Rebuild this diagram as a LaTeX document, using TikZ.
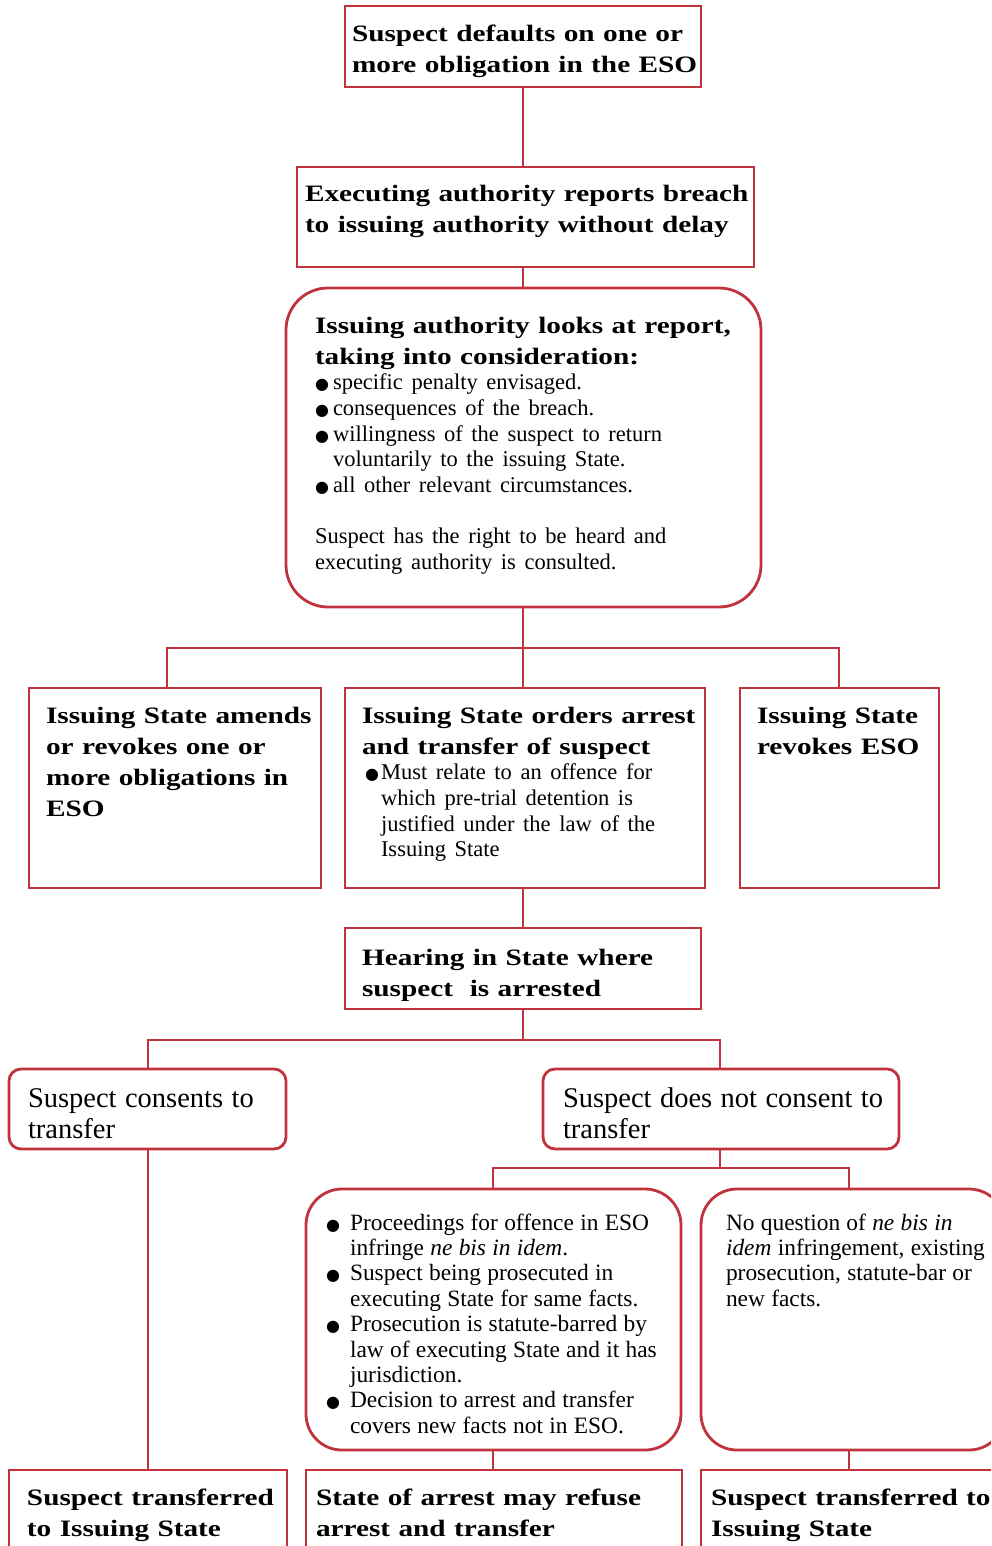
\documentclass[tikz,border=0pt]{standalone}
\usepackage{fontspec}
\setmainfont{Liberation Serif}
\newfontfamily\bfw{Liberation Serif}[FakeStretch=1.245]
\newfontfamily\djv{DejaVu Sans}
\definecolor{ered}{RGB}{192,50,60}
\setlength\parindent{0pt}
\newcommand\bT{\bfw\bfseries\fontsize{23.5}{31}\selectfont\spaceskip=8.4pt plus 2pt minus 1pt\relax}
\newcommand\rS{\rmfamily\fontsize{22.5}{25.7}\selectfont\spaceskip=8.6pt plus 2pt minus 1pt\relax}
\newcommand\rM{\rmfamily\fontsize{23.4}{25.4}\selectfont\spaceskip=6.3pt plus 2pt minus 1pt\relax}
\newcommand\rL{\rmfamily\fontsize{28.5}{31}\selectfont\spaceskip=8.4pt plus 2pt minus 1pt\relax}
\newcommand\bul[1]{\makebox[#1][l]{\djv\fontsize{16}{16}\selectfont ●}}
\begin{document}
\begin{tikzpicture}[x=1pt,y=-1pt,
  box/.style={draw=ered,line width=2.8pt,inner sep=0pt,outer sep=0pt,anchor=north west},
  txt/.style={inner sep=0pt,outer sep=0pt,anchor=base west,align=left,text width=460pt},
  conn/.style={draw=ered,line width=2.8pt}]
\useasboundingbox (0,0) rectangle (991,1546);
\clip (0,0) rectangle (991,1546);
% boxes
\node[box,minimum width=356pt,minimum height=81pt] (b1) at (345,6) {};
\node[box,minimum width=457pt,minimum height=100pt] (b2) at (297,167) {};
\node[box,rounded corners=42pt,minimum width=475pt,minimum height=319pt] (b3) at (286,288) {};
\node[box,minimum width=292pt,minimum height=200pt] (b4) at (29,688) {};
\node[box,minimum width=360pt,minimum height=200pt] (b5) at (345,688) {};
\node[box,minimum width=199pt,minimum height=200pt] (b6) at (740,688) {};
\node[box,minimum width=356pt,minimum height=81pt] (b7) at (345,928) {};
\node[box,rounded corners=12pt,minimum width=277pt,minimum height=80pt] (b8) at (9,1069) {};
\node[box,rounded corners=12pt,minimum width=356pt,minimum height=80pt] (b9) at (543,1069) {};
\node[box,rounded corners=36pt,minimum width=375pt,minimum height=261pt] (b10) at (306,1189) {};
\node[box,rounded corners=36pt,minimum width=304pt,minimum height=261pt] (b11) at (701,1189) {};
\node[box,minimum width=278pt,minimum height=130pt] (b12) at (9,1470) {};
\node[box,minimum width=376pt,minimum height=130pt] (b13) at (306,1470) {};
\node[box,minimum width=304pt,minimum height=130pt] (b14) at (701,1470) {};
% junctions
\coordinate (ax) at (523,0);
\coordinate (j1) at (523,648);
\coordinate (j1l) at (167,648);
\coordinate (j1r) at (839,648);
\coordinate (j2) at (523,1040);
\coordinate (j2l) at (148,1040);
\coordinate (j2r) at (720,1040);
\coordinate (j3l) at (493,1168);
\coordinate (j3r) at (849,1168);
% connectors
\draw[conn] (b1.south -| ax) -- (b2.north -| ax);
\draw[conn] (b2.south -| ax) -- (b3.north -| ax);
\draw[conn] (b3.south -| ax) -- (j1);
\draw[conn] (j1l |- b4.north) -- (j1l) -- (j1r) -- (j1r |- b6.north);
\draw[conn] (j1) -- (b5.north -| ax);
\draw[conn] (b5.south -| ax) -- (b7.north -| ax);
\draw[conn] (b7.south -| ax) -- (j2);
\draw[conn] (j2l |- b8.north) -- (j2l) -- (j2r) -- (j2r |- b9.north);
\draw[conn] (j2l |- b8.south) -- (j2l |- b12.north);
\draw[conn] (j2r |- b9.south) -- (j2r |- j3l);
\draw[conn] (j3l |- b10.north) -- (j3l) -- (j3r) -- (j3r |- b11.north);
\draw[conn] (j3l |- b10.south) -- (j3l |- b13.north);
\draw[conn] (j3r |- b11.south) -- (j3r |- b14.north);
% texts
\node[txt] (t1) at (352,42) {\bT Suspect defaults on one or\\ more obligation in the ESO\par};
\node[txt] (t2) at (305,202) {\bT Executing authority reports breach\\ to issuing authority without delay\par};
\node[txt] (t3) at (315,333) {{\bT Issuing authority looks at report,\\ taking into consideration:\par}
{\rS \bul{18pt}specific penalty envisaged.\\ \bul{18pt}consequences of the breach.\\ \bul{18pt}willingness of the suspect to return\\ \hspace*{18pt}voluntarily to the issuing State.\\ \bul{18pt}all other relevant circumstances.\par}
\vskip 25.7pt
{\rS Suspect has the right to be heard and\\ executing authority is consulted.\par}};
\node[txt] (t4) at (46,723) {\bT Issuing State amends\\ or revokes one or\\ more obligations in\\ ESO\par};
\node[txt] (t5) at (362,723) {{\bT Issuing State orders arrest\\ and transfer of suspect\par}
{\rS \hspace*{3pt}\bul{16pt}Must relate to an offence for\\ \hspace*{19pt}which pre-trial detention is\\ \hspace*{19pt}justified under the law of the\\ \hspace*{19pt}Issuing State\par}};
\node[txt] (t6) at (757,723) {\bT Issuing State\\ revokes ESO\par};
\node[txt] (t7) at (362,965) {\bT Hearing in State where\\ suspect\ \ is arrested\par};
\node[txt] (t8) at (28,1107) {\rL Suspect consents to\\ transfer\par};
\node[txt] (t9) at (563,1107) {\rL Suspect does not consent to\\ transfer\par};
\node[txt] (t10) at (326,1230) {\rM \bul{24pt}Proceedings for offence in ESO\\ \hspace*{24pt}infringe \textit{ne bis in idem}.\\ \bul{24pt}Suspect being prosecuted in\\ \hspace*{24pt}executing State for same facts.\\ \bul{24pt}Prosecution is statute-barred by\\ \hspace*{24pt}law of executing State and it has\\ \hspace*{24pt}jurisdiction.\\ \bul{24pt}Decision to arrest and transfer\\ \hspace*{24pt}covers new facts not in ESO.\par};
\node[txt] (t11) at (726,1230) {\rM No question of \textit{ne bis in}\\ \textit{idem} infringement, existing\\ prosecution, statute-bar or\\ new facts.\par};
\node[txt] (t12) at (27,1505) {\bT Suspect transferred\\ to Issuing State\par};
\node[txt] (t13) at (316,1505) {\bT State of arrest may refuse\\ arrest and transfer\par};
\node[txt] (t14) at (711,1505) {\bT Suspect transferred to\\ Issuing State\par};
\end{tikzpicture}
\end{document}
